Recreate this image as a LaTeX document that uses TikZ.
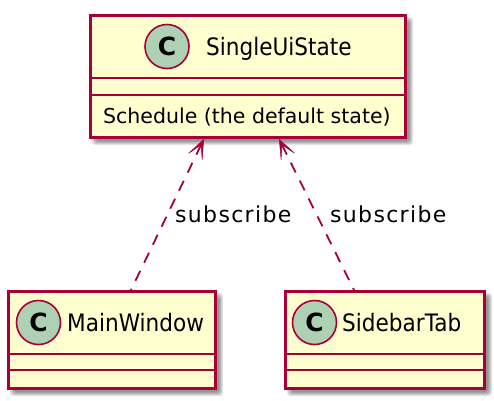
\documentclass[tikz,border=0pt]{standalone}
\usepackage{fontspec}
\setmainfont{DejaVu Sans}
\newfontfamily\namefam[FakeStretch=0.9]{DejaVu Sans}
\newfontfamily\labfam[LetterSpace=6]{DejaVu Sans}
\newfontfamily\cfam{DejaVu Sans Bold}
\usetikzlibrary{arrows.meta,calc}
\definecolor{pbord}{HTML}{A80036}
\definecolor{pfill}{HTML}{FEFECE}
\definecolor{pcirc}{HTML}{ADD1B2}
\newcommand\myshadow[4]{%
  \foreach \i in {0,1,2,3,4}{%
    \fill[black,opacity=0.1,rounded corners=3pt] ({#1+7-\i},{#2+7-\i}) rectangle ({#3+5+\i},{#4+5+\i});}}
\tikzset{
  cls/.style={draw=pbord,fill=pfill,line width=2.8pt,rectangle,inner sep=0pt,anchor=north west},
  sep/.style={draw=pbord,line width=2.8pt},
  circ/.style={circle,draw=pbord,fill=pcirc,line width=1.6pt,minimum size=44pt,inner sep=0pt,
    font=\cfam\fontsize{25}{28}\selectfont},
  cname/.style={anchor=base west,inner sep=0pt,font=\namefam\fontsize{24}{28}\selectfont},
  member/.style={anchor=base west,inner sep=0pt,font=\fontsize{20.5}{24}\selectfont},
  lab/.style={anchor=base west,inner sep=0pt,font=\labfam\fontsize{22}{26}\selectfont},
  dep/.style={draw=pbord,line width=1.8pt,dash pattern=on 11pt off 9pt,
    {Stealth[length=23pt,width=18pt,inset=16pt,line width=0.5pt]}-}
}
\begin{document}
\begin{tikzpicture}[x=1pt,y=-1pt]
\useasboundingbox (0,0) rectangle (494,400);
% shadows
\myshadow{89}{14}{404}{136}
\myshadow{7}{290}{214}{387}
\myshadow{284}{290}{483}{387}
% top class
\node[cls,minimum width=315pt,minimum height=122pt] (top) at (89,14) {};
\draw[sep] ([yshift=-64pt]top.north west) -- ([yshift=-64pt]top.north east);
\draw[sep] ([yshift=-81pt]top.north west) -- ([yshift=-81pt]top.north east);
\node[circ] (topc) at (167,46.5) {C};
\node[cname] (topn) at (206,55) {SingleUiState};
\node[member] (topm) at (103,123) {Schedule (the default state)};
% MainWindow
\node[cls,minimum width=207pt,minimum height=97pt] (mw) at (7,290) {};
\draw[sep] ([yshift=-64pt]mw.north west) -- ([yshift=-64pt]mw.north east);
\draw[sep] ([yshift=-80pt]mw.north west) -- ([yshift=-80pt]mw.north east);
\node[circ] (mwc) at (38.5,322.5) {C};
\node[cname] (mwn) at (67,331) {MainWindow};
% SidebarTab
\node[cls,minimum width=199pt,minimum height=97pt] (sb) at (284,290) {};
\draw[sep] ([yshift=-64pt]sb.north west) -- ([yshift=-64pt]sb.north east);
\draw[sep] ([yshift=-80pt]sb.north west) -- ([yshift=-80pt]sb.north east);
\node[circ] (sbc) at (314.5,322.5) {C};
\node[cname] (sbn) at (342,331) {SidebarTab};
% connectors
\draw[dep] ([xshift=115pt]top.south west) -- ([xshift=124pt]mw.north west);
\draw[dep] ([xshift=190pt]top.south west) -- ([xshift=70pt]sb.north west);
\node[lab] (l1) at (175,222) {subscribe};
\node[lab] (l2) at (330,222) {subscribe};
\end{tikzpicture}
\end{document}
